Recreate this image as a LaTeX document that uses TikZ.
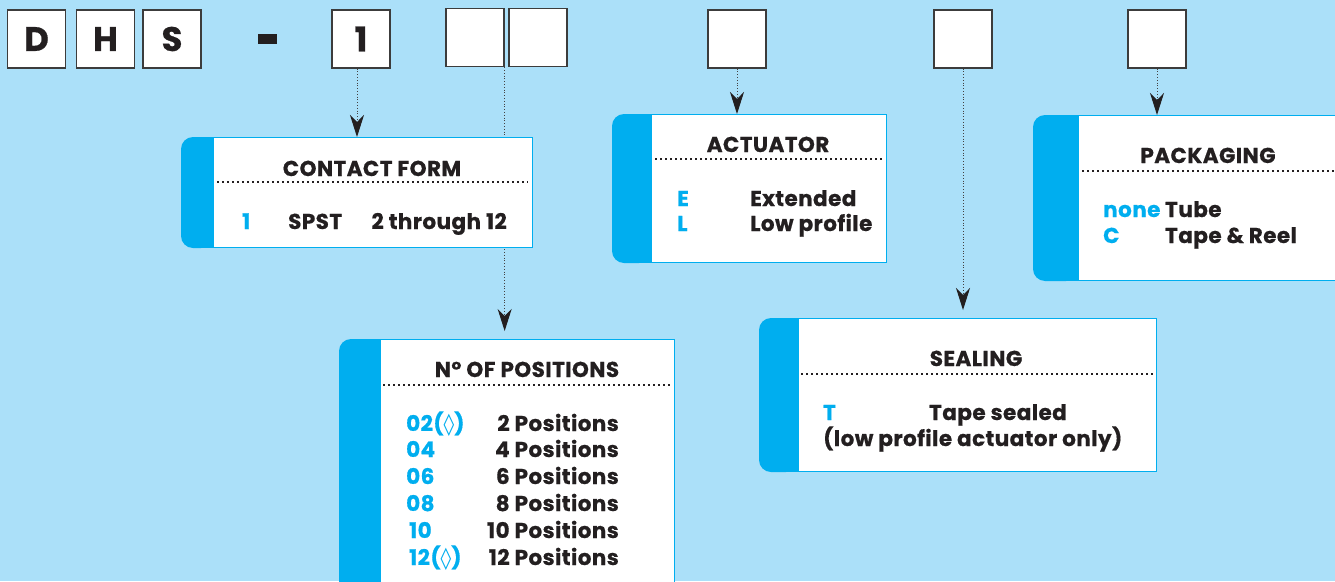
\documentclass[tikz,border=0pt]{standalone}
\usepackage{fontspec}
\setmainfont{Poppins}[BoldFeatures={FakeBold=0.6,LetterSpace=2}]
\newfontfamily\symf{DejaVu Sans}
\usetikzlibrary{arrows.meta,calc}
\definecolor{bgblue}{HTML}{ABE0F9}
\definecolor{cyanb}{HTML}{00AEEF}
\definecolor{ink}{HTML}{231F20}
\definecolor{boxline}{HTML}{3C3C3C}
\pgfdeclarelayer{bg}
\pgfdeclarelayer{behind}
\pgfsetlayers{bg,behind,main}
\begin{document}
\begin{tikzpicture}[x=1pt,y=-1pt,
  tbox/.style={draw=boxline,line width=1.3pt,fill=white,minimum width=58pt,minimum height=58pt,inner sep=0pt,font=\fontsize{34}{34}\selectfont\bfseries,text=ink},
  ibox/.style={draw=cyanb,line width=1pt,fill=white,anchor=north west,inner sep=0pt},
  ttl/.style={anchor=base,font=\fontsize{21.5}{21.5}\selectfont\bfseries,text=ink,inner sep=0pt},
  txt/.style={anchor=base west,font=\fontsize{21.5}{21.5}\selectfont\bfseries,text=ink,inner sep=0pt},
  txtr/.style={txt,anchor=base east},
  code/.style={txt,text=cyanb},
  conn/.style={draw=ink!85,line width=1pt,dash pattern=on 1pt off 1.8pt,-{Stealth[length=22pt,width=14pt,inset=7pt,color=ink]}},
  divider/.style={draw=ink,line width=1.8pt,dash pattern=on 1.8pt off 3.2pt},
]
\useasboundingbox (0,0) rectangle (1335,581);
\begin{pgfonlayer}{bg}
\fill[bgblue] (0,0) rectangle (1335,581);
\end{pgfonlayer}
\clip (0,0) rectangle (1335,581);

% top code boxes
\node[tbox] (d) at (36.5,39) {D};
\node[tbox] (h) at (105.5,39) {H};
\node[tbox] (s) at (172,39) {S};
\node[fill=ink,minimum width=19pt,minimum height=10pt,inner sep=0pt] (dash) at (267.5,39) {};
\node[tbox] (one) at (361,39) {1};
\node[tbox] (p1) at (475,37.5) {};
\node[tbox] (p2) at (538,37.5) {};
\node[tbox] (act0) at (737,39) {};
\node[tbox] (seal0) at (963,39) {};
\node[tbox] (pkg0) at (1157,39) {};

% info boxes
\node[ibox,minimum width=319pt,minimum height=110pt] (cf) at (213,137) {};
\node[ibox,minimum width=235pt,minimum height=148pt] (act) at (651,114) {};
\node[ibox,minimum width=300pt,minimum height=165pt] (pkg) at (1078,115) {};
\node[ibox,minimum width=294pt,minimum height=260pt] (pos) at (380,339) {};
\node[ibox,minimum width=358pt,minimum height=153pt] (seal) at (798,318) {};

\foreach \b/\w in {cf/32,act/39,pkg/45,pos/41,seal/39}{
  \fill[cyanb,rounded corners=12pt] ($(\b.north west)+(-\w,0)$) rectangle (\b.south west);
  \fill[cyanb] ($(\b.north west)+(-14,0)$) rectangle (\b.south west);
}

% dividers
\draw[divider] (217,182) -- (528,182);
\draw[divider] (655,159) -- (883,159);
\draw[divider] (1082,171) -- (1335,171);
\draw[divider] (383,385) -- (671,385);
\draw[divider] (801,374) -- (1153,374);

% contact form
\node[ttl] (cft) at (372,176) {CONTACT FORM};
\node[code] (c1) at (242,229) {1};
\node[txt] (c2) at (288,229) {SPST};
\node[txtr] (c3) at (507,229) {2 through 12};

% actuator
\node[ttl] (actt) at (768,152) {ACTUATOR};
\node[code] (a1) at (677,206) {E};
\node[txt] (a2) at (750,206) {Extended};
\node[code] (a3) at (677,231) {L};
\node[txt] (a4) at (750,231) {Low profile};

% packaging
\node[ttl] (pkgt) at (1208,163) {PACKAGING};
\node[code] (k1) at (1103,217) {none};
\node[txt] (k2) at (1165,217) {Tube};
\node[code] (k3) at (1103,243) {C};
\node[txt] (k4) at (1165,243) {Tape \& Reel};

% positions
\node[ttl] (post) at (527,377) {N° OF POSITIONS};
\node[code] (q1) at (406,431) {02({\symf\mdseries ◊})};
\node[txtr] (r1) at (619,431) {2 Positions};
\node[code] (q2) at (406,457) {04};
\node[txtr] (r2) at (619,457) {4 Positions};
\node[code] (q3) at (406,484) {06};
\node[txtr] (r3) at (619,484) {6 Positions};
\node[code] (q4) at (406,511) {08};
\node[txtr] (r4) at (619,511) {8 Positions};
\node[code] (q5) at (409,538) {10};
\node[txtr] (r5) at (619,538) {10 Positions};
\node[code] (q6) at (409,565) {12({\symf\mdseries ◊})};
\node[txtr] (r6) at (619,565) {12 Positions};

% sealing
\node[ttl] (sealt) at (976,366) {SEALING};
\node[code] (s1) at (823,420) {T};
\node[txt] (s2) at (929,420) {Tape sealed};
\node[txt] (s3) at (823,446) {(low profile actuator only)};

% connectors
\begin{pgfonlayer}{behind}
\draw[conn] ([xshift=-4pt]one.south) -- ([xshift=-4pt]one.south |- cf.north);
\draw[conn,shorten >=8pt] (p1.south east) -- (p1.south east |- pos.north);
\draw[conn] (act0.south) -- (act0.south |- act.north);
\draw[conn,shorten >=8pt] (seal0.south) -- (seal0.south |- seal.north);
\draw[conn] (pkg0.south) -- (pkg0.south |- pkg.north);
\end{pgfonlayer}
\end{tikzpicture}
\end{document}
